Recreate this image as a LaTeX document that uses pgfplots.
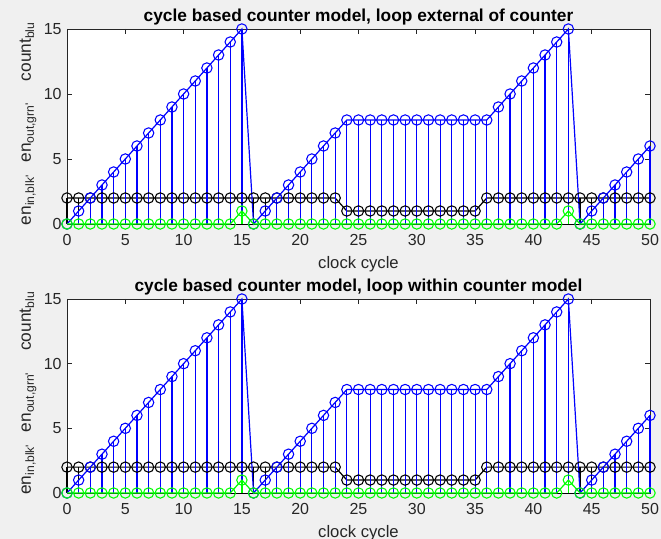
\documentclass[border=0pt]{standalone}
\usepackage{pgfplots}
\pgfplotsset{compat=1.18}
\usepackage{pgfplotstable}
\usepackage{fontspec}
\setmainfont{Liberation Sans}
\definecolor{figbg}{RGB}{240,240,240}
\definecolor{tickgray}{RGB}{38,38,38}
\definecolor{mgreen}{RGB}{0,255,0}
\definecolor{mblue}{RGB}{0,0,255}

\pgfplotstableread{
x cnt en eo
0 0 2 0
1 1 2 0
2 2 2 0
3 3 2 0
4 4 2 0
5 5 2 0
6 6 2 0
7 7 2 0
8 8 2 0
9 9 2 0
10 10 2 0
11 11 2 0
12 12 2 0
13 13 2 0
14 14 2 0
15 15 2 1
16 0 2 0
17 1 2 0
18 2 2 0
19 3 2 0
20 4 2 0
21 5 2 0
22 6 2 0
23 7 2 0
24 8 1 0
25 8 1 0
26 8 1 0
27 8 1 0
28 8 1 0
29 8 1 0
30 8 1 0
31 8 1 0
32 8 1 0
33 8 1 0
34 8 1 0
35 8 1 0
36 8 2 0
37 9 2 0
38 10 2 0
39 11 2 0
40 12 2 0
41 13 2 0
42 14 2 0
43 15 2 1
44 0 2 0
45 1 2 0
46 2 2 0
47 3 2 0
48 4 2 0
49 5 2 0
50 6 2 0
}\datatbl

\pgfplotsset{stemax/.style={
  scale only axis, width=437.25pt,
  xmin=0, xmax=50, ymin=0, ymax=15,
  xtick={0,5,...,50}, ytick={0,5,10,15},
  tick align=inside, major tick length=3.5pt,
  axis background/.style={fill=white},
  axis line style={tickgray, line width=0.5pt},
  tick style={tickgray, line width=0.5pt},
  tick label style={font=\fontsize{12}{14}\selectfont, text=tickgray},
  /pgf/number format/assume math mode=true,
  xticklabel style={yshift=-4.5pt},
  yticklabel style={xshift=-0.5pt},
  xlabel={clock cycle},
  xlabel style={font=\fontsize{12.5}{14}\selectfont, text=tickgray, at={(axis description cs:0.5,0)}, anchor=north, yshift=-20.5pt},
  ylabel={en\textsubscript{in,blk\textquotesingle}\hspace{9pt}en\textsubscript{out,grn\textquotesingle}\hspace{16pt}count\textsubscript{blu}},
  ylabel style={font=\fontsize{13}{15}\selectfont, text=tickgray, at={(axis description cs:-0.0669,0.515)}, anchor=center},
  every axis title/.style={font=\fontsize{13}{15}\bfseries\selectfont, at={(axis description cs:0.5,1)}, anchor=base, yshift=5.3pt},
  clip=false,
  every axis plot/.append style={line width=0.9pt},
  mark options={solid, line width=0.8pt},
}}

\newcommand{\stemplots}{%
  \addplot[black, line width=0.6pt, no markers] coordinates {(0,0) (50,0)};
  \addplot[black, ycomb, no markers] table[x=x, y=en] {\datatbl};
  \addplot[black, mark=o, mark size=3.9pt] table[x=x, y=en] {\datatbl};
  \addplot[mblue, ycomb, no markers] table[x=x, y=cnt] {\datatbl};
  \addplot[mblue, mark=o, mark size=3.9pt] table[x=x, y=cnt] {\datatbl};
  \addplot[mgreen, ycomb, no markers] table[x=x, y=eo] {\datatbl};
  \addplot[mgreen, mark=o, mark size=3.9pt] table[x=x, y=eo] {\datatbl};
}

\begin{document}
\begin{tikzpicture}
\fill[figbg] (0,0) rectangle (495.75pt,404.25pt);
\begin{axis}[stemax, at={(50.25pt,236.25pt)}, anchor=south west, height=146.25pt,
  title={cycle based counter model, loop external of counter}]
\stemplots
\end{axis}
\begin{axis}[stemax, at={(50.25pt,34.5pt)}, anchor=south west, height=145.5pt,
  title={cycle based counter model, loop within counter model}]
\stemplots
\end{axis}
\pgfresetboundingbox
\path (0,0) rectangle (495.75pt,404.25pt);
\end{tikzpicture}
\end{document}
